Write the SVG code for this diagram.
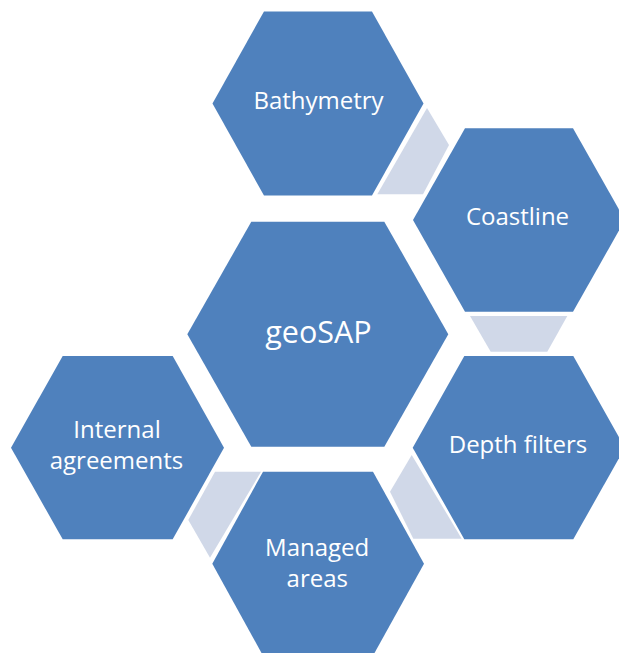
<svg xmlns="http://www.w3.org/2000/svg" width="619" height="653" viewBox="0 0 619 653">
<style>
.hex{fill:#4F81BD;}
.con{fill:#D0D8E8;}
.lbl{font-family:"Open Sans","Liberation Sans",sans-serif;font-size:24px;fill:#FFFFFF;text-anchor:middle;}
.big{font-size:30.5px;}
</style>
<rect width="619" height="653" fill="#FFFFFF"/>
<g id="connectors">
<polygon class="con" points="427,108 449,145 423,194.3 377.3,194.3"/>
<polygon class="con" points="470,316 567.3,316 547.3,351.7 490.7,351.7"/>
<polygon class="con" points="411.7,455 390,491.7 413.3,538.7 461.7,538.7"/>
<polygon class="con" points="215,471.7 261,471.7 210,557.7 188.3,520"/>
</g>
<g id="geoSAP">
<polygon class="hex" points="187.3,334.2 251.3,221.7 384.3,221.7 448.3,334.2 384.3,446.7 251.3,446.7"/>
<text class="lbl big" x="318.5" y="342.5">geoSAP</text>
</g>
<g id="bathymetry">
<polygon class="hex" points="212.5,103.5 264,11.5 372,11.5 423.5,103.5 372,195.5 264,195.5"/>
<text class="lbl" x="318.5" y="108.5">Bathymetry</text>
</g>
<g id="coastline">
<polygon class="hex" points="413,220 465,128.3 573,128.3 625,220 573,311.7 465,311.7"/>
<text class="lbl" x="517.5" y="225">Coastline</text>
</g>
<g id="depth-filters">
<polygon class="hex" points="412.7,447.7 464.3,356 573.3,356 624.9,447.7 573.3,539.3 464.3,539.3"/>
<text class="lbl" x="518" y="453.3">Depth filters</text>
</g>
<g id="internal-agreements">
<polygon class="hex" points="11,447.7 62.7,356 172.7,356 224,447.7 172.7,539.3 62.7,539.3"/>
<text class="lbl" x="117" y="438.3">Internal</text>
<text class="lbl" x="116.5" y="469">agreements</text>
</g>
<g id="managed-areas">
<polygon class="hex" points="212.3,563.7 263,471.7 373,471.7 424,563.7 373,655.7 263,655.7"/>
<text class="lbl" x="317.2" y="556">Managed</text>
<text class="lbl" x="317.3" y="586.7">areas</text>
</g>
</svg>
